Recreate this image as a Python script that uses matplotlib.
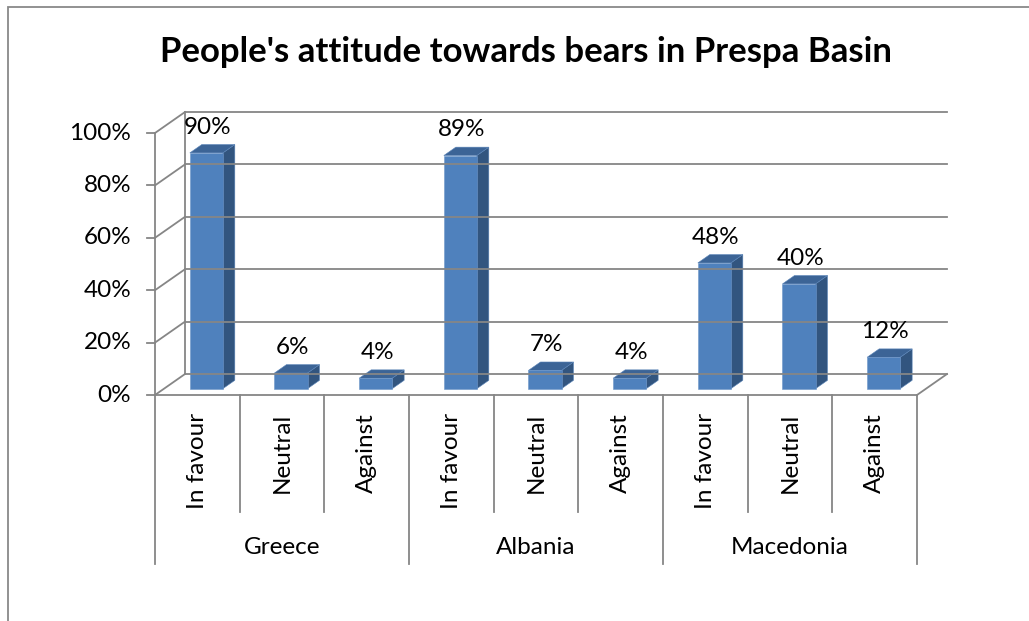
import matplotlib.pyplot as plt
from matplotlib.patches import Polygon, Rectangle

countries = ["Greece", "Albania", "Macedonia"]
attitudes = ["In favour", "Neutral", "Against"]
greece = [90, 6, 4]
albania = [89, 7, 4]
macedonia = [48, 40, 12]
yticks = [0, 20, 40, 60, 80, 100]

values = greece + albania + macedonia
n = len(values)

plt.rcParams['font.family'] = ['Lato', 'DejaVu Sans']
fs = 17.5

fig = plt.figure(figsize=(10.29, 6.21), dpi=100)
W, H = 1029, 621

# outer chart border
fig.patches.append(Rectangle((8 / W, -0.05), 1.1, 1 - 7 / H + 0.05,
                             transform=fig.transFigure, fill=False,
                             edgecolor='#898989', linewidth=1.3))

fig.text(526 / W, 1 - 52 / H, "People's attitude towards bears in Prespa Basin",
         ha='center', va='center', fontsize=25, fontweight='bold')

ax = fig.add_axes([155 / W, 1 - 395 / H, (917 - 155) / W, (395 - 133) / H])
ax.set_xlim(0, n)
ax.set_ylim(0, 100)
ax.axis('off')

DX, DY = 0.354, 8.0     # depth of the 3d box in data units
grid = '#868686'
lw = 1.3

# back wall gridlines and left wall diagonals
for t in yticks:
    ax.plot([DX, n + DX], [t + DY, t + DY], color=grid, lw=lw, clip_on=False)
    ax.plot([0, DX], [t, t + DY], color=grid, lw=lw, clip_on=False)
    ax.plot([-0.09, 0], [t, t], color=grid, lw=lw, clip_on=False)
    ax.text(-0.28, t, f"{t}%", ha='right', va='center', fontsize=fs)
ax.plot([DX, DX], [DY, 100 + DY], color=grid, lw=lw, clip_on=False)
ax.plot([0, 0], [0, 100], color=grid, lw=lw, clip_on=False)
ax.plot([0, n], [0, 0], color=grid, lw=lw, clip_on=False)
ax.plot([n, n + DX], [0, DY], color=grid, lw=lw, clip_on=False)

# bars drawn as boxes: front, side and top faces
w, f, d = 0.39, 0.3, 0.4
front_c, side_c, top_c = '#4F81BD', '#32557F', '#3C6496'
for i, v in enumerate(values):
    x0 = i + 0.5 - w / 2 + f * DX
    y0 = f * DY
    ax.add_patch(Polygon([(x0 + w, y0), (x0 + w + d * DX, y0 + d * DY),
                          (x0 + w + d * DX, y0 + d * DY + v), (x0 + w, y0 + v)],
                         facecolor=side_c, edgecolor='#5A84B8', lw=0.4, clip_on=False))
    ax.add_patch(Polygon([(x0, y0 + v), (x0 + w, y0 + v),
                          (x0 + w + d * DX, y0 + v + d * DY), (x0 + d * DX, y0 + v + d * DY)],
                         facecolor=top_c, edgecolor='#5A84B8', lw=0.4, clip_on=False))
    ax.add_patch(Rectangle((x0, y0), w, v, facecolor=front_c,
                           edgecolor='#6E96C8', lw=0.4, clip_on=False))
    ax.annotate(f"{v}%", (x0 + w / 2 + 0.02, y0 + v + d * DY), xytext=(0, 5),
                textcoords='offset points', ha='center', va='bottom', fontsize=fs)

# two-level category axis
for i in range(n + 1):
    bottom = -64.4 if i % 3 == 0 else -44.8
    ax.plot([i, i], [0, bottom], color=grid, lw=lw, clip_on=False)
for i in range(n):
    ax.text(i + 0.5, -6.9, attitudes[i % 3], rotation=90, ha='center', va='top',
            fontsize=fs)
for g, name in enumerate(countries):
    ax.text(g * 3 + 1.5, -58.2, name, ha='center', va='center', fontsize=fs)

fig.savefig('out.png', dpi=100)
